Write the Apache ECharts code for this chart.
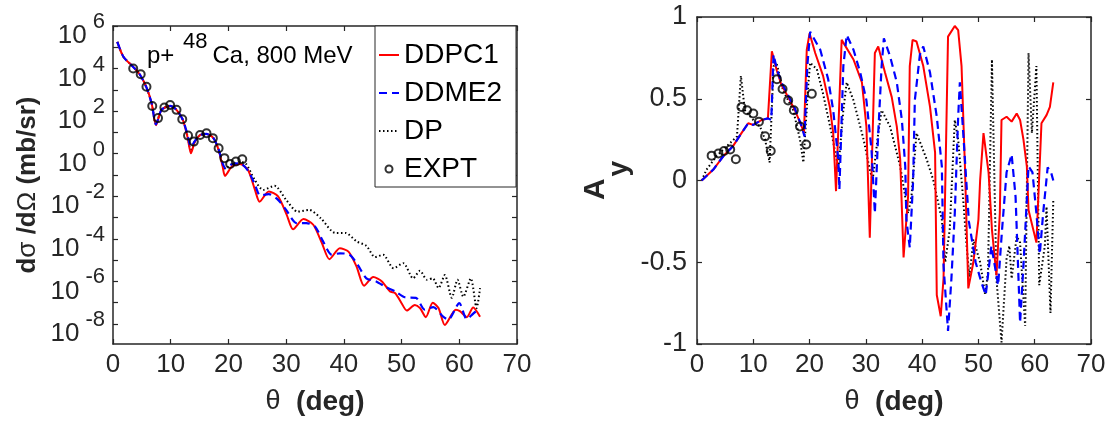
<!DOCTYPE html>
<html>
<head>
<meta charset="utf-8">
<script src="https://cdn.jsdelivr.net/npm/echarts@6/dist/echarts.min.js"></script>
<style>
html,body{margin:0;padding:0;background:#fff;}
#c{width:1113px;height:423px;}
</style>
</head>
<body>
<div id="c"></div>
<script>
// ---------- Left panel: differential cross section (mb/sr) ----------
const csDDPC1_theta = [0.75,1.8,3.5,4.7,5.8,6.7,7.45,8.4,9.9,11,12.1,12.9,13.5,14.2,15.1,16.2,17.4,18.3,19.0,19.4,20.6,22,23.4,24.6,25.4,27,28.6,30.1,31.2,33,34.7,36.2,37.5,39.3,40.8,42.2,43.5,45.1,46.6,48,48.9,50,50.9,52.3,53.2,54.2,55.4,56.4,57.5,59.4,60.1,61.3,62.4,63.6];
const csDDPC1 = [1.8e5,3.6e4,1.2e4,5.0e3,1.3e3,2.3e2,22,115,175,115,39,6.3,1.05,3.7,7.6,8.5,5.4,1.5,0.25,0.091,0.25,0.33,0.17,0.02,5.6e-3,1.7e-2,9.8e-3,1.35e-3,2.8e-4,8.5e-4,4.6e-4,6.3e-5,1.1e-5,3.6e-5,2.5e-5,5.0e-6,6.3e-7,1.6e-6,1.0e-6,3.4e-7,2.8e-7,9.5e-8,4.3e-8,7.9e-8,5.6e-8,2.1e-8,1.0e-7,5.6e-8,9.1e-9,4.7e-8,4.0e-8,2.1e-8,6.0e-8,2.2e-8];

const csDDME2_theta = [0.75,1.8,3.5,4.7,5.8,6.7,7.45,8.4,9.9,11,12.1,12.9,13.5,14.2,15.1,16.2,17.4,18.3,19.0,19.5,20.6,22,23.4,24.6,25.5,27,28.6,30,31.8,33.5,35,36.4,37.9,39.3,41,42.4,43.9,45.6,47.3,48.9,50.6,52.5,54,55.5,57.2,58.1,60,61.3,63,63.6];
const csDDME2 = [1.8e5,3.6e4,1.2e4,5.0e3,1.3e3,2.3e2,24,115,175,115,39,8,2.1,4.0,7.6,8.5,5.4,1.6,0.35,0.21,0.32,0.35,0.16,0.035,1.1e-2,1.26e-2,6.8e-3,2.3e-3,5.5e-4,5.5e-4,3.8e-4,7.6e-5,1.8e-5,2.1e-5,1.8e-5,6.0e-6,1.4e-6,1.0e-6,5.4e-7,3.4e-7,1.8e-7,1.7e-7,4.7e-8,6.2e-8,2.2e-8,1.6e-8,9.5e-8,1.7e-8,3.9e-8,3.2e-8];

const csDP_theta = [0.75,1.8,3.5,4.7,5.8,6.7,7.45,8.4,9.9,11,12.1,12.9,13.5,14.2,15.1,16.2,17.4,18.3,19.0,19.4,20.6,22,23,24.5,26,28,30,32,34,36,38.5,40.3,42.2,43.9,45.4,46.8,48.6,50.3,52,53.2,54.4,55.4,56.4,57.5,58.7,59.7,60.7,62,63,63.6];
const csDP = [1.8e5,3.6e4,1.2e4,5.0e3,1.3e3,2.3e2,24,115,175,115,39,7,1.6,3.9,7.6,8.5,5.4,1.6,0.3,0.2,0.32,0.4,0.35,6.3e-2,2.0e-2,3.1e-2,6.8e-3,1.9e-3,2.3e-3,9.3e-4,1.9e-4,1.9e-4,7.6e-5,4.7e-5,1.4e-5,1.8e-5,4.2e-6,7.2e-6,1.4e-6,3.2e-6,1.2e-6,1.4e-6,4.9e-7,2.0e-6,1.7e-7,1.2e-6,1.9e-7,1.4e-6,5.6e-8,4.9e-7];

const csEXPT_theta = [3.5,4.8,5.8,6.8,7.8,8.9,9.9,11,12,13,14,15.1,16.2,17.3,18.3,19.3,20.3,21.3,22.4];
const csEXPT = [1.0e4,5.4e3,1.4e3,174,47,148,195,115,42,7.1,3.7,7.6,9.1,5.4,1.8,0.62,0.33,0.43,0.55];

// ---------- Right panel: analyzing power Ay ----------
const ayDDPC1_theta = [0.83,2.9,4.7,6.4,7.9,9.1,10,11.5,12.6,12.9,13.3,14.2,15,16.2,17.4,18.6,19,19.5,20,21,22.4,23.6,24.2,24.7,25.7,26,27.8,29.3,30.1,30.7,31.6,32.2,33.4,34.6,35.5,36.1,36.7,37.5,37.8,38.3,39,40.2,41.4,42.3,42.6,43.3,43.8,44.6,45.8,46.4,47,47.6,48.2,49.1,50,50.3,50.9,51.8,52.4,53.2,53.8,54.1,55,55.9,56.8,57.4,58,58.6,58.9,60.3,61.2,62.1,62.7,63.3];
const ayDDPC1 = [0,0.067,0.15,0.21,0.29,0.35,0.34,0.37,0.38,0.39,0.79,0.67,0.585,0.51,0.43,0.33,0.29,0.8,0.9,0.78,0.64,0.45,0.29,-0.065,0.86,0.87,0.74,0.6,0.33,-0.35,0.78,0.82,0.66,0.51,0.33,0.13,-0.47,-0.1,0.7,0.86,0.85,0.7,0.45,0.17,-0.7,-0.83,-0.6,0.88,0.945,0.92,0.7,0.087,-0.66,-0.5,-0.24,0,0.29,0.05,-0.3,-0.58,-0.2,0.37,0.39,0.36,0.41,0.37,0.25,0.087,-0.18,-0.38,0.35,0.4,0.45,0.6];

const ayDDME2_theta = [0.83,2.9,4.7,6.4,7.9,9.1,10,11.5,12.6,13.2,13.6,14.2,15,16.2,17.4,18.6,19.1,19.6,20.1,21.9,23.3,24.2,25.1,25.3,26,26.6,27.8,29,30.1,31,31.6,32.2,32.8,33.2,34.3,35.5,36.4,37,37.2,37.8,38.4,38.7,39.6,40.2,41.4,42.6,43.5,43.8,44.6,45.2,45.8,46.4,46.7,47.3,48.3,49.5,50.5,51.3,52.3,53.5,54.2,55,55.9,56.6,57.4,58,58.9,59.6,60.3,60.9,61.5,62.3,62.9,63.3];
const ayDDME2 = [0,0.067,0.15,0.21,0.29,0.35,0.34,0.37,0.38,0.37,0.77,0.68,0.6,0.52,0.44,0.33,0.27,0.7,0.91,0.8,0.62,0.43,0.13,-0.055,0.7,0.89,0.8,0.66,0.49,0.19,-0.2,0.29,0.7,0.87,0.76,0.6,0.37,0.087,-0.24,-0.41,0,0.49,0.77,0.82,0.66,0.39,0.087,-0.52,-0.92,-0.6,-0.2,0.39,0.6,0.29,-0.25,-0.5,-0.62,-0.7,-0.4,-0.64,-0.3,0.05,0.16,-0.1,-0.87,-0.52,0.087,0.05,-0.2,-0.45,-0.2,0.08,0.05,0.0];

const ayDP_theta = [0.83,1.7,3.5,5.3,7.1,7.8,8.5,10,11.2,12.1,12.9,13.6,14.2,15.3,17.1,18.3,18.9,19.8,20.1,21.3,22.4,23.9,24.8,25.1,26,26.6,27.8,29.6,30.7,31.2,32.2,32.8,34.3,36.1,37,37.5,38.1,39,40.8,42,43.5,44.1,44.9,45.8,46.4,47.3,47.9,48.4,49.1,50.3,51.2,51.7,52.4,53.2,54.1,55,55.5,55.9,56.8,57.4,58.3,58.9,59.5,60.3,60.8,61.8,62.1,62.8,63.3];
const ayDP = [0,0.067,0.15,0.21,0.27,0.64,0.43,0.37,0.33,0.25,0.11,0.7,0.71,0.55,0.43,0.25,0.11,0.6,0.72,0.68,0.53,0.29,0.13,0.067,0.43,0.6,0.49,0.25,0.067,0,0.29,0.43,0.33,0.087,-0.1,-0.2,-0.1,0.29,0.13,0,-0.24,-0.5,-0.3,0.37,0.25,-0.12,-0.4,-0.59,-0.36,-0.5,-0.7,-0.56,0.74,-0.6,-0.99,-0.48,-0.4,-0.6,-0.34,-0.38,-0.89,0.78,0.29,0.7,-0.64,-0.4,-0.16,-0.81,-0.12];

const ayEXPT_theta = [2.6,3.8,4.8,5.9,6.9,7.9,8.9,10,11,12.1,13.1,14.2,15.2,16.2,17.2,18.3,19.4,20.4];
const ayEXPT = [0.152,0.165,0.18,0.19,0.13,0.45,0.43,0.41,0.36,0.27,0.18,0.62,0.56,0.49,0.43,0.33,0.22,0.53];

// ---------- Ticks ----------
const xTicks = [0,10,20,30,40,50,60,70];
const csLabelTicks = [1e-8,1e-6,1e-4,1e-2,1,1e2,1e4,1e6];
const csMinorTicks = [1e-8,1e-7,1e-6,1e-5,1e-4,1e-3,1e-2,1e-1,1,1e1,1e2,1e3,1e4,1e5,1e6];

const zip = (xs, ys) => xs.map((x, i) => [x, ys[i]]);

const AX = '#262626';
const FONT = 'Liberation Sans';
const tick = {show: true, inside: true, length: 5, lineStyle: {color: AX, width: 1.2}};
const axisLine = {show: true, onZero: false, lineStyle: {color: AX, width: 1.5}};

function xAx(grid, pos, withName) {
  return {
    type: 'value', gridIndex: grid, position: pos, min: 0, max: 70, interval: 10,
    axisLine: axisLine, axisTick: tick, splitLine: {show: false},
    axisLabel: {show: withName, color: AX, fontSize: 26, fontFamily: FONT, margin: 8},
    name: withName ? '{n|θ}{b|  (deg)}' : '',
    nameLocation: 'middle', nameGap: 44,
    nameTextStyle: {rich: {
      n: {fontSize: 27, fontFamily: FONT, color: AX},
      b: {fontSize: 28, fontFamily: FONT, fontWeight: 'bold', color: AX}
    }}
  };
}

const logLabelFmt = v => {
  const e = Math.round(Math.log10(v));
  return '{b|10}{s|' + e + '}';
};

const hideSym = {color: 'rgba(0,0,0,0)', borderWidth: 0, opacity: 0};
const exptStyle = {color: 'rgba(0,0,0,0)', borderColor: '#000', borderWidth: 2};

const option = {
  animation: false,
  backgroundColor: '#fff',
  textStyle: {fontFamily: FONT},
  title: {
    left: 142, top: 26,
    text: '{a|p+ }{s|48}{a|Ca, 800 MeV}',
    textStyle: {fontWeight: 'normal', rich: {
      a: {fontSize: 24, fontFamily: FONT, fontWeight: 'normal', color: '#000', verticalAlign: 'bottom'},
      s: {fontSize: 22, fontFamily: FONT, fontWeight: 'normal', color: '#000', verticalAlign: 'bottom', padding: [0, 5, 15, 2]}
    }}
  },
  legend: {
    orient: 'vertical', left: 375, top: 26,
    backgroundColor: '#fff', borderColor: AX, borderWidth: 1,
    padding: [14, 14, 3, 3], itemGap: 8, itemWidth: 20, itemHeight: 7,
    textStyle: {fontSize: 28, fontFamily: FONT, color: '#000', lineHeight: 30},
    data: [
      {name: 'DDPC1', itemStyle: hideSym},
      {name: 'DDME2', itemStyle: hideSym},
      {name: 'DP', itemStyle: hideSym},
      {name: 'EXPT'}
    ]
  },
  grid: [
    {left: 113, top: 26, width: 404, height: 318},
    {left: 697, top: 17, width: 394, height: 327}
  ],
  xAxis: [
    xAx(0, 'bottom', true), xAx(0, 'top', false),
    xAx(1, 'bottom', true), xAx(1, 'top', false)
  ],
  yAxis: [
    {
      type: 'log', gridIndex: 0, position: 'left', logBase: 10, min: 1.15e-9, max: 1e6,
      axisLine: axisLine, splitLine: {show: false},
      axisTick: Object.assign({}, tick, {customValues: csMinorTicks}),
      axisLabel: {
        customValues: csLabelTicks, formatter: logLabelFmt, margin: 8, padding: [8, 0, 0, 0],
        rich: {
          b: {fontSize: 26, fontFamily: FONT, color: AX, verticalAlign: 'bottom'},
          s: {fontSize: 22, fontFamily: FONT, color: AX, verticalAlign: 'bottom', padding: [0, 0, 16, 6]}
        }
      },
      name: '{b|d}{n|σ}{b| /d}{n|Ω}{b| (mb/sr)}',
      nameLocation: 'middle', nameGap: 72,
      nameTextStyle: {rich: {
        b: {fontSize: 26, fontFamily: FONT, fontWeight: 'bold', color: AX},
        n: {fontSize: 26, fontFamily: FONT, color: AX}
      }}
    },
    {
      type: 'log', gridIndex: 0, position: 'right', logBase: 10, min: 1.15e-9, max: 1e6,
      axisLine: axisLine, splitLine: {show: false},
      axisTick: Object.assign({}, tick, {customValues: csMinorTicks}),
      axisLabel: {show: false}
    },
    {
      type: 'value', gridIndex: 1, position: 'left', min: -1, max: 1, interval: 0.5,
      axisLine: axisLine, axisTick: tick, splitLine: {show: false},
      axisLabel: {color: AX, fontSize: 27, fontFamily: FONT, margin: 10, padding: [14, 0, 0, 0]},
      name: '{a|A}{s|y}',
      nameLocation: 'middle', nameGap: 64,
      nameTextStyle: {rich: {
        a: {fontSize: 30, fontFamily: FONT, fontWeight: 'bold', color: AX, verticalAlign: 'top'},
        s: {fontSize: 28, fontFamily: FONT, fontWeight: 'bold', color: AX, verticalAlign: 'top', padding: [24, 0, 0, 2]}
      }}
    },
    {
      type: 'value', gridIndex: 1, position: 'right', min: -1, max: 1, interval: 0.5,
      axisLine: axisLine, axisTick: tick, splitLine: {show: false}, axisLabel: {show: false}
    }
  ],
  series: [
    {name: 'DDPC1', type: 'line', xAxisIndex: 0, yAxisIndex: 0, symbol: 'none', smooth: 0.25,
     lineStyle: {color: '#ff0000', width: 2}, itemStyle: {color: '#ff0000'}, data: zip(csDDPC1_theta, csDDPC1), z: 3},
    {name: 'DDME2', type: 'line', xAxisIndex: 0, yAxisIndex: 0, symbol: 'none', smooth: 0.25,
     lineStyle: {color: '#0000ff', width: 2.2, type: [8, 5]}, itemStyle: {color: '#0000ff'}, data: zip(csDDME2_theta, csDDME2), z: 4},
    {name: 'DP', type: 'line', xAxisIndex: 0, yAxisIndex: 0, symbol: 'none', smooth: 0.25,
     lineStyle: {color: '#000', width: 2, type: [1.5, 2.5]}, itemStyle: {color: '#000'}, data: zip(csDP_theta, csDP), z: 2},
    {name: 'EXPT', type: 'scatter', xAxisIndex: 0, yAxisIndex: 0, symbol: 'circle', symbolSize: 8,
     itemStyle: exptStyle, data: zip(csEXPT_theta, csEXPT), z: 5},

    {name: 'DDPC1', type: 'line', xAxisIndex: 2, yAxisIndex: 2, symbol: 'none',
     lineStyle: {color: '#ff0000', width: 2}, itemStyle: {color: '#ff0000'}, data: zip(ayDDPC1_theta, ayDDPC1), z: 3},
    {name: 'DDME2', type: 'line', xAxisIndex: 2, yAxisIndex: 2, symbol: 'none',
     lineStyle: {color: '#0000ff', width: 2.2, type: [8, 5]}, data: zip(ayDDME2_theta, ayDDME2), z: 4},
    {name: 'DP', type: 'line', xAxisIndex: 2, yAxisIndex: 2, symbol: 'none',
     lineStyle: {color: '#000', width: 2, type: [1.5, 2.5]}, data: zip(ayDP_theta, ayDP), z: 2},
    {name: 'EXPT', type: 'scatter', xAxisIndex: 2, yAxisIndex: 2, symbol: 'circle', symbolSize: 8,
     itemStyle: exptStyle, data: zip(ayEXPT_theta, ayEXPT), z: 5}
  ]
};

const chart = echarts.init(document.getElementById('c'), null, {renderer: 'canvas'});
chart.setOption(option);
</script>
</body>
</html>
